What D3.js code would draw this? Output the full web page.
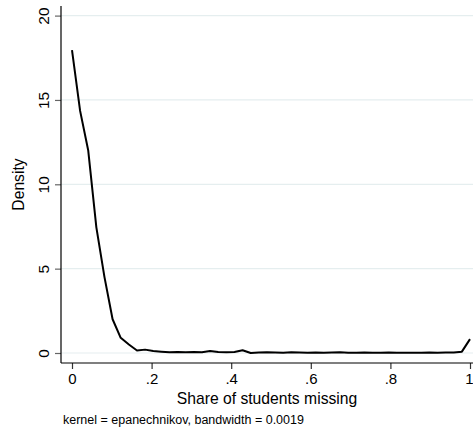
<!DOCTYPE html>
<html>
<head>
<meta charset="utf-8">
<script src="https://cdn.jsdelivr.net/npm/d3@7/dist/d3.min.js"></script>
<style>
  html, body { margin: 0; padding: 0; background: #fff; }
  svg { display: block; font-family: "Liberation Sans", Arial, sans-serif; }
</style>
</head>
<body>
<svg id="chart" width="473" height="432"></svg>
<script>
// Kernel density estimate evaluated on 50 points across [0, 1]
const gridX = [0, 0.0204, 0.0408, 0.0612, 0.0816, 0.102, 0.1224, 0.1429, 0.1633, 0.1837,
  0.2041, 0.2245, 0.2449, 0.2653, 0.2857, 0.3061, 0.3265, 0.3469, 0.3673, 0.3878,
  0.4082, 0.4286, 0.449, 0.4694, 0.4898, 0.5102, 0.5306, 0.551, 0.5714, 0.5918,
  0.6122, 0.6327, 0.6531, 0.6735, 0.6939, 0.7143, 0.7347, 0.7551, 0.7755, 0.7959,
  0.8163, 0.8367, 0.8571, 0.8776, 0.898, 0.9184, 0.9388, 0.9592, 0.9796, 1];
const density = [17.95, 14.35, 12.0, 7.45, 4.5, 2.0, 0.9, 0.5, 0.15, 0.2,
  0.12, 0.08, 0.05, 0.06, 0.05, 0.06, 0.05, 0.12, 0.06, 0.05,
  0.06, 0.16, 0.0, 0.03, 0.05, 0.03, 0.02, 0.04, 0.03, 0.02,
  0.03, 0.02, 0.03, 0.05, 0.02, 0.02, 0.03, 0.02, 0.02, 0.03,
  0.02, 0.02, 0.02, 0.02, 0.03, 0.02, 0.03, 0.03, 0.08, 0.82];
const xTicks = [0, 0.2, 0.4, 0.6, 0.8, 1];
const xTickLabels = ["0", ".2", ".4", ".6", ".8", "1"];
const yTicks = [0, 5, 10, 15, 20];
const yTickLabels = ["0", "5", "10", "15", "20"];
const xTitle = "Share of students missing";
const yTitle = "Density";
const note = "kernel = epanechnikov, bandwidth = 0.0019";

const svg = d3.select("#chart");
const frame = { left: 61, right: 473, top: 6, bottom: 363 };

const x = d3.scaleLinear().domain([0, 1]).range([72, 470]);
const y = d3.scaleLinear().domain([0, 20]).range([353, 15.6]);

// horizontal grid lines
svg.append("g")
  .selectAll("line")
  .data(yTicks)
  .join("line")
  .attr("x1", frame.left).attr("x2", frame.right)
  .attr("y1", d => y(d)).attr("y2", d => y(d))
  .attr("stroke", "#e5eeef").attr("stroke-width", 1.2);

// y axis
const yAxis = svg.append("g")
  .attr("transform", `translate(${frame.left},0)`)
  .call(d3.axisLeft(y).tickValues(yTicks).tickSize(6).tickFormat((d, i) => yTickLabels[i]));
yAxis.select(".domain").remove();
yAxis.selectAll(".tick line").attr("stroke", "#666").attr("stroke-width", 1.2);
yAxis.selectAll(".tick text")
  .attr("x", null).attr("dy", null)
  .attr("text-anchor", "middle")
  .attr("transform", "translate(-12,0) rotate(-90)")
  .attr("font-size", 15.5)
  .attr("font-family", "Liberation Sans, Arial, sans-serif")
  .attr("fill", "#000");

// x axis
const xAxis = svg.append("g")
  .attr("transform", `translate(0,${frame.bottom})`)
  .call(d3.axisBottom(x).tickValues(xTicks).tickSize(6).tickFormat((d, i) => xTickLabels[i]));
xAxis.select(".domain").remove();
xAxis.selectAll(".tick line").attr("stroke", "#333").attr("stroke-width", 1.2);
xAxis.selectAll(".tick text")
  .attr("y", 20.5).attr("dy", null)
  .attr("font-size", 15)
  .attr("font-family", "Liberation Sans, Arial, sans-serif")
  .attr("fill", "#000");
// keep the last label inside the right edge
xAxis.selectAll(".tick text")
  .filter(d => d === 1)
  .attr("text-anchor", "end")
  .attr("x", 3);

// axis lines
svg.append("line")
  .attr("x1", frame.left).attr("x2", frame.left)
  .attr("y1", frame.top).attr("y2", frame.bottom)
  .attr("stroke", "#000").attr("stroke-width", 1.2);
svg.append("line")
  .attr("x1", frame.left).attr("x2", frame.right)
  .attr("y1", frame.bottom).attr("y2", frame.bottom)
  .attr("stroke", "#000").attr("stroke-width", 1.2);

// density curve
const line = d3.line().x(d => x(d[0])).y(d => y(d[1]));
svg.append("path")
  .datum(gridX.map((gx, i) => [gx, density[i]]))
  .attr("d", line)
  .attr("fill", "none")
  .attr("stroke", "#000")
  .attr("stroke-width", 2)
  .attr("stroke-linejoin", "round");

// titles
svg.append("text")
  .attr("x", (frame.left + frame.right) / 2).attr("y", 404)
  .attr("text-anchor", "middle")
  .attr("font-size", 15.7)
  .text(xTitle);
svg.append("text")
  .attr("transform", `translate(24,${(frame.top + frame.bottom) / 2}) rotate(-90)`)
  .attr("text-anchor", "middle")
  .attr("font-size", 15.7)
  .text(yTitle);
svg.append("text")
  .attr("x", 63).attr("y", 424)
  .attr("font-size", 12.5)
  .text(note);
</script>
</body>
</html>
